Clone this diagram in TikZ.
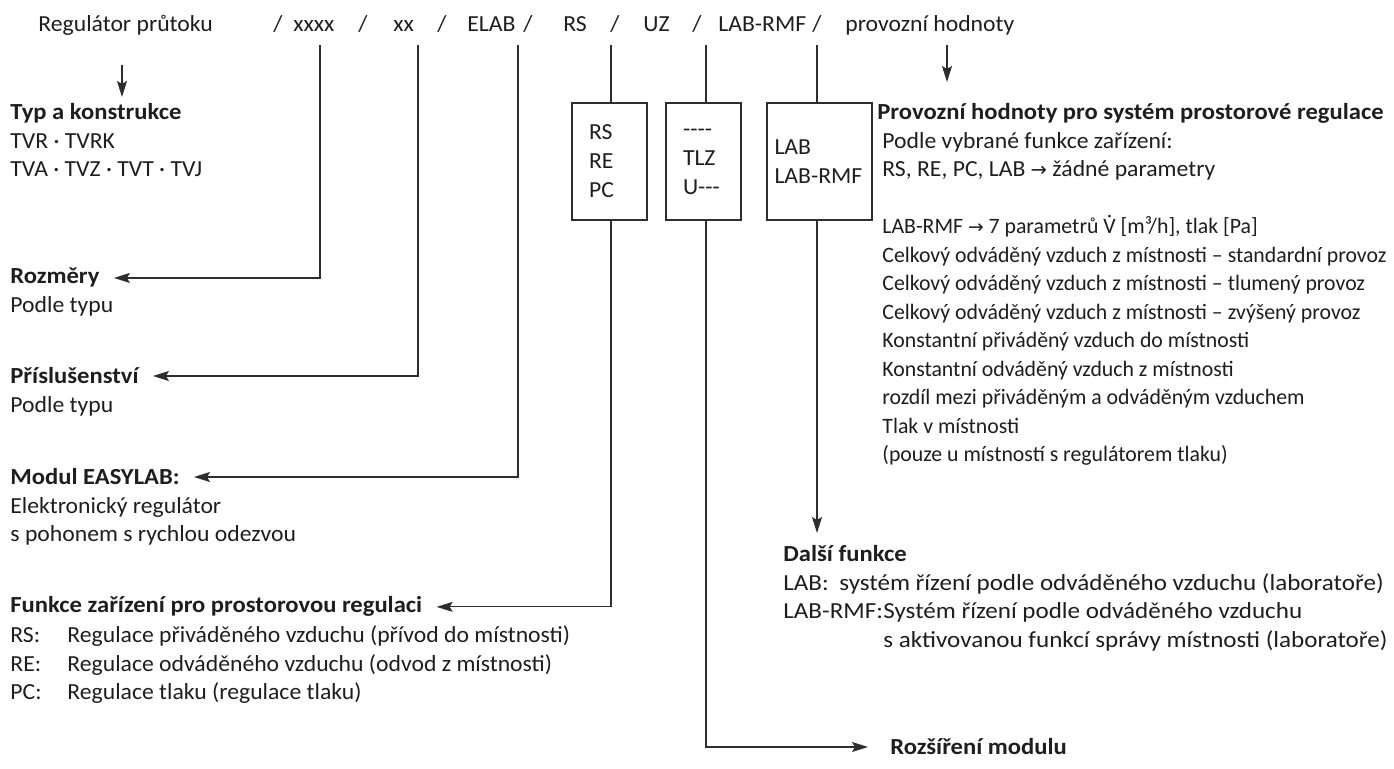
\documentclass[tikz,border=0pt]{standalone}
\usepackage{fontspec}
\setmainfont{Carlito}[FakeStretch=1.03, BoldFeatures={FakeStretch=1.07}]
\newfontfamily\widefont{Carlito}[FakeStretch=1.09]
\newfontfamily\narrowfont{Carlito}[FakeStretch=0.99]
\newfontfamily\arrowfont{DejaVu Sans}[Scale=0.85]
\usepackage{tikz}
\usetikzlibrary{arrows.meta,positioning}
\definecolor{inkdark}{HTML}{1E1E1E}
\definecolor{wiregrey}{HTML}{2E2E2E}
\newcommand{\toarrow}{{\arrowfont →}}
\newcommand{\flowV}{\accent"02D9 V}
\tikzset{
  % ---- text blocks (base = last line) ---------------------------------
  ctext/.style={inner sep=0pt, anchor=base west, text=inkdark, align=left,
    font=\fontsize{11.5pt}{14.25pt}\selectfont},
  chead/.style={ctext, font=\fontsize{11.5pt}{14.25pt}\selectfont\bfseries},
  cnarrow/.style={ctext, font=\fontsize{11pt}{14.25pt}\narrowfont},
  cwide/.style={ctext, font=\fontsize{11.5pt}{14.25pt}\widefont},
  cbox/.style={draw=wiregrey, line width=0.6pt, minimum width=37.5pt,
    minimum height=58.5pt, inner xsep=8.5pt, text width=20.5pt,
    align=left, text=inkdark, font=\fontsize{11.5pt}{14.5pt}\selectfont},
  % ---- connections ----------------------------------------------------
  wire/.style={draw=wiregrey, line width=0.6pt},
  drop/.style={wire, -{Stealth[length=8pt,width=5pt,inset=1.5pt]}},
  lead/.style={drop, shorten >=7pt},
}

\begin{document}
\begin{tikzpicture}[x=0.5pt, y=-0.5pt]

\fill[white] (0,0) rectangle (1394,769);
\useasboundingbox (0,0) rectangle (1394,769);

% ---- type code -------------------------------------------------------
\node[ctext] (reg)   at (38,32)  {Regulátor průtoku};
\foreach \sx [count=\si] in {273,358,437,523,610,692,812}
  \node[ctext] (sep\si) at (\sx,32) {/};
\node[ctext] (cxxxx) at (293,32) {xxxx};
\node[ctext] (cxx)   at (393,32) {xx};
\node[ctext] (celab) at (467,32) {ELAB};
\node[ctext] (crs)   at (563,32) {RS};
\node[ctext] (cuz)   at (643,32) {UZ};
\node[ctext] (clab)  at (718,32) {LAB-RMF};
\node[ctext] (cprov) at (845,32) {provozní hodnoty};

\coordinate (tapxxxx) at (320,45);
\coordinate (tapxx)   at (418,45);
\coordinate (tapelab) at (518,45);
\coordinate (taprs)   at (611,45);
\coordinate (tapuz)   at (706,45);
\coordinate (taplab)  at (817,45);
\coordinate (regdrop)  at (122,65);
\coordinate (provdrop) at (947,45);

% ---- option boxes ----------------------------------------------------
\node[cbox] (rsbox) at (609.5,161.5) {RS\\RE\\PC};
\node[cbox] (uzbox) at (703.5,161.5) {{-}{-}{-}{-}\\TLZ\\U{-}{-}{-}};
\node[cbox, text width=45pt, inner xsep=3.75pt] (labbox) at (819.5,161.5)
  {LAB\\\mbox{LAB-RMF}};

% ---- left column -----------------------------------------------------
\node[chead] (typ)      at (10,120) {Typ a konstrukce};
\node[ctext] (typtxt)   at (10,177) {TVR · TVRK\\TVA · TVZ · TVT · TVJ};
\node[chead] (rozm)     at (10,284) {Rozměry};
\node[ctext] (rozmtxt)  at (10,312.5) {Podle typu};
\node[chead] (pris)     at (10,384) {Příslušenství};
\node[ctext] (pristxt)  at (10,412.5) {Podle typu};
\node[chead] (modul)    at (10,485) {Modul EASYLAB:};
\node[ctext] (modultxt) at (10,542)
  {Elektronický regulátor\\s pohonem s rychlou odezvou};
\node[chead] (funkce)   at (10,613) {Funkce zařízení pro prostorovou regulaci};
\node[ctext] (funkcetxt) at (10,700)
  {\makebox[28.5pt][l]{RS:}Regulace přiváděného vzduchu (přívod do místnosti)\\
   \makebox[28.5pt][l]{RE:}Regulace odváděného vzduchu (odvod z místnosti)\\
   \makebox[28.5pt][l]{PC:}Regulace tlaku (regulace tlaku)};

% ---- right column ----------------------------------------------------
\node[chead] (provh)   at (877,120) {Provozní hodnoty pro systém prostorové regulace};
\node[ctext] (provtxt) at (882,177)
  {Podle vybrané funkce zařízení:\\RS, RE, PC, LAB \toarrow{} žádné parametry};
\node[cnarrow] (rmftxt) at (882,462)
  {LAB-RMF \toarrow{} 7 parametrů \flowV{} [m³/h], tlak [Pa]\\
   Celkový odváděný vzduch z místnosti – standardní provoz\\
   Celkový odváděný vzduch z místnosti – tlumený provoz\\
   Celkový odváděný vzduch z místnosti – zvýšený provoz\\
   Konstantní přiváděný vzduch do místnosti\\
   Konstantní odváděný vzduch z místnosti\\
   rozdíl mezi přiváděným a odváděným vzduchem\\
   Tlak v místnosti\\
   (pouze u místností s regulátorem tlaku)};
\coordinate (dalsitip) at (817,533);
\node[chead] (dalsi)    at (783,562) {Další funkce};
\node[cwide] (dalsitxt) at (783,647.5)
  {\makebox[28pt][l]{LAB:}systém řízení podle odváděného vzduchu (laboratoře)\\
   \makebox[50pt][l]{LAB-RMF:}Systém řízení podle odváděného vzduchu\\
   \hspace*{50pt}s aktivovanou funkcí správy místnosti (laboratoře)};
\node[chead] (rozs) at (890,755) {Rozšíření modulu};

% ---- connections -----------------------------------------------------
\draw[drop] (regdrop) -- ++(0,32);
\draw[drop] (provdrop) -- ++(0,37);

\draw[wire] (taprs)  -- (taprs |- rsbox.north);
\draw[wire] (tapuz)  -- (tapuz |- uzbox.north);
\draw[wire] (taplab) -- (taplab |- labbox.north);

\draw[lead] (tapxxxx) |- (rozm.east);
\draw[lead] (tapxx)   |- (pris.east);
\draw[lead] (tapelab) |- (modul.east);
\draw[lead] (taprs |- rsbox.south) |- (funkce.east);
\draw[lead, shorten >=11pt] (tapuz |- uzbox.south) |- (rozs.west);
\draw[drop] (taplab |- labbox.south) -- (dalsitip);

\end{tikzpicture}
\end{document}
